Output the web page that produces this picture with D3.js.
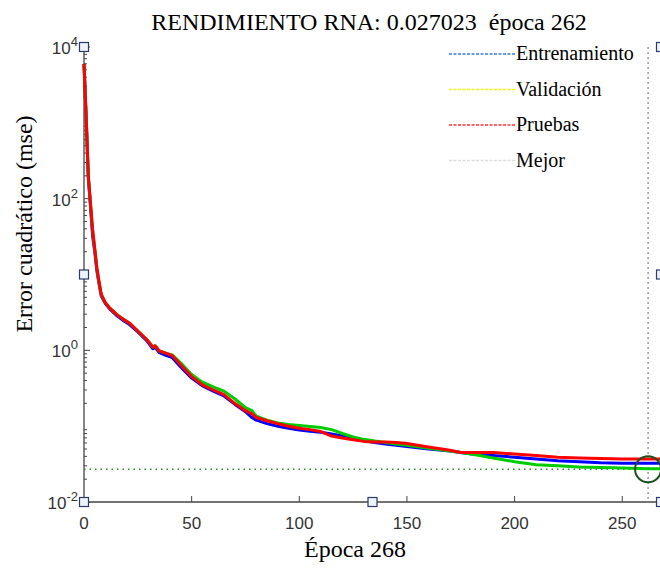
<!DOCTYPE html>
<html>
<head>
<meta charset="utf-8">
<script src="https://cdn.jsdelivr.net/npm/d3@7"></script>
<style>
  body { margin: 0; background: #fff; }
  svg { display: block; }
</style>
</head>
<body>
<div id="chart"></div>
<script>
let epochs = [0, 1, 2, 3, 4, 5, 6, 7, 8, 10, 12, 15, 18, 21, 25, 29, 30, 32, 33, 35, 38, 41, 45, 50, 55, 60, 65, 70, 75, 78, 80, 85, 90, 95, 100, 105, 110, 115, 120, 125, 130, 135, 140, 145, 150, 160, 170, 175, 180, 190, 200, 210, 220, 230, 240, 250, 262, 268]

let entrenamiento = [6000, 1200, 190, 80, 32, 20, 11, 7.5, 5.2, 4.1, 3.5, 2.9, 2.5, 2.2, 1.75, 1.35, 1.25, 1.05, 1.1, 0.93, 0.86, 0.8, 0.6, 0.43, 0.34, 0.29, 0.25, 0.195, 0.155, 0.13, 0.12, 0.108, 0.1, 0.094, 0.089, 0.086, 0.083, 0.079, 0.074, 0.069, 0.064, 0.061, 0.058, 0.056, 0.054, 0.05, 0.047, 0.045, 0.043, 0.041, 0.039, 0.037, 0.035, 0.034, 0.033, 0.0325, 0.0325, 0.0325]

let validacion = [6000, 1200, 200, 85, 38, 21, 12, 7.8, 5.4, 4.2, 3.6, 3.0, 2.6, 2.3, 1.8, 1.4, 1.3, 1.1, 1.15, 0.98, 0.92, 0.87, 0.68, 0.48, 0.38, 0.33, 0.29, 0.23, 0.175, 0.16, 0.135, 0.12, 0.11, 0.105, 0.102, 0.099, 0.096, 0.09, 0.08, 0.072, 0.067, 0.064, 0.061, 0.058, 0.056, 0.051, 0.047, 0.045, 0.043, 0.038, 0.034, 0.031, 0.03, 0.029, 0.0285, 0.028, 0.0275, 0.0275]

let pruebas = [6000, 1200, 200, 88, 39, 22, 12, 8, 5.5, 4.2, 3.6, 3.0, 2.6, 2.3, 1.8, 1.4, 1.3, 1.1, 1.15, 0.98, 0.92, 0.85, 0.64, 0.45, 0.35, 0.3, 0.26, 0.2, 0.16, 0.145, 0.13, 0.118, 0.108, 0.1, 0.094, 0.09, 0.085, 0.074, 0.07, 0.066, 0.063, 0.062, 0.062, 0.061, 0.059, 0.053, 0.048, 0.045, 0.045, 0.045, 0.043, 0.041, 0.039, 0.038, 0.0375, 0.037, 0.037, 0.037]

let mejorEpoca = 262
let mejorValor = 0.027023
let totalEpocas = 268

let xTicks = [0, 50, 100, 150, 200, 250]
let yTicks = [1e-2, 1e0, 1e2, 1e4]
let yTickLabels = ["-2", "0", "2", "4"]

let seriesNames = ["Entrenamiento", "Validación", "Pruebas", "Mejor"]
let legendColors = ["#3d7fe0", "#f5f500", "#ff3030", "#dddddd"]

let width = 660, height = 570
let margin = {top: 47, left: 84, bottom: 68}

let svg = d3.select("#chart").append("svg")
    .attr("width", width)
    .attr("height", height)

let x = d3.scaleLinear().domain([0, totalEpocas]).range([margin.left, 661])
let y = d3.scaleLog().domain([1e-2, 1e4]).range([height - margin.bottom, margin.top])

let sans = "Liberation Sans, Arial, sans-serif"
let serif = "Liberation Serif, Times New Roman, serif"

// axes (left and bottom only, ticks inside)
let axisColor = "#444"
svg.append("line")
    .attr("x1", x(0)).attr("x2", x(totalEpocas))
    .attr("y1", y(1e-2)).attr("y2", y(1e-2))
    .attr("stroke", axisColor).attr("stroke-width", 1.3)
svg.append("line")
    .attr("x1", x(0)).attr("x2", x(0))
    .attr("y1", y(1e-2)).attr("y2", y(1e4))
    .attr("stroke", axisColor).attr("stroke-width", 1.3)

// x ticks
xTicks.forEach(t => {
  if (t > 0) {
    svg.append("line")
      .attr("x1", x(t)).attr("x2", x(t))
      .attr("y1", y(1e-2)).attr("y2", y(1e-2) - 6)
      .attr("stroke", axisColor)
  }
  svg.append("text")
    .attr("x", x(t)).attr("y", y(1e-2) + 27)
    .attr("text-anchor", "middle")
    .attr("font-family", sans)
    .attr("font-size", "17px")
    .attr("fill", "#333")
    .text(t)
})

// y ticks, major and minor
for (let p = -2; p < 4; p++) {
  for (let m = 2; m < 10; m++) {
    let v = m * Math.pow(10, p)
    svg.append("line")
      .attr("x1", x(0)).attr("x2", x(0) + 3)
      .attr("y1", y(v)).attr("y2", y(v))
      .attr("stroke", axisColor)
  }
}
yTicks.forEach((t, i) => {
  svg.append("line")
    .attr("x1", x(0)).attr("x2", x(0) + 6)
    .attr("y1", y(t)).attr("y2", y(t))
    .attr("stroke", axisColor)
  let lab = svg.append("text")
    .attr("x", x(0) - 6).attr("y", y(t) + 7)
    .attr("text-anchor", "end")
    .attr("font-family", sans)
    .attr("font-size", "17px")
    .attr("fill", "#333")
  lab.append("tspan").text("10")
  lab.append("tspan").attr("dy", "-8").attr("font-size", "13px").text(yTickLabels[i])
})

// best line markers
svg.append("line")
    .attr("x1", x(0)).attr("x2", x(totalEpocas))
    .attr("y1", y(mejorValor)).attr("y2", y(mejorValor))
    .attr("stroke", "#2e8b2e").attr("stroke-width", 1.5)
    .attr("stroke-dasharray", "1.5,4")
svg.append("line")
    .attr("x1", x(mejorEpoca)).attr("x2", x(mejorEpoca))
    .attr("y1", y(1e4)).attr("y2", y(1e-2))
    .attr("stroke", "#888").attr("stroke-width", 1.3)
    .attr("stroke-dasharray", "2,3")

// curves
let data = epochs.map((e, i) => ({e: e, tr: entrenamiento[i], va: validacion[i], te: pruebas[i]}))
let lineOf = key => d3.line().x(d => x(d.e)).y(d => y(d[key]))

svg.append("path").attr("d", lineOf("tr")(data))
    .attr("fill", "none").attr("stroke", "#0000ff").attr("stroke-width", 3).attr("stroke-linejoin", "round")
svg.append("path").attr("d", lineOf("va")(data))
    .attr("fill", "none").attr("stroke", "#00cc00").attr("stroke-width", 3).attr("stroke-linejoin", "round")
svg.append("path").attr("d", lineOf("te")(data))
    .attr("fill", "none").attr("stroke", "#ff0000").attr("stroke-width", 3).attr("stroke-linejoin", "round")

// circle on best epoch
svg.append("circle")
    .attr("cx", x(mejorEpoca)).attr("cy", y(mejorValor))
    .attr("r", 13)
    .attr("fill", "none").attr("stroke", "#1f4f1f").attr("stroke-width", 2)

// legend
seriesNames.forEach((name, i) => {
  let ly = 54 + i * 35.5
  svg.append("line")
    .attr("x1", 449).attr("x2", 515)
    .attr("y1", ly).attr("y2", ly)
    .attr("stroke", legendColors[i]).attr("stroke-width", 1.5)
    .attr("stroke-dasharray", "3,1.5")
  svg.append("text")
    .attr("x", 516).attr("y", ly + 6)
    .attr("font-family", serif)
    .attr("font-size", "20px")
    .attr("fill", "#000")
    .text(name)
})

// title and axis labels
svg.append("text")
    .attr("x", 369).attr("y", 30)
    .attr("text-anchor", "middle")
    .attr("font-family", serif)
    .attr("font-size", "24px")
    .attr("fill", "#000")
    .attr("xml:space", "preserve")
    .text("RENDIMIENTO RNA: 0.027023  época 262")

svg.append("text")
    .attr("x", 355).attr("y", 557)
    .attr("text-anchor", "middle")
    .attr("font-family", serif)
    .attr("font-size", "24px")
    .attr("fill", "#000")
    .text("Época 268")

svg.append("text")
    .attr("transform", "translate(32,224) rotate(-90)")
    .attr("text-anchor", "middle")
    .attr("font-family", serif)
    .attr("font-size", "24px")
    .attr("fill", "#000")
    .text("Error cuadrático (mse)")

// image selection handles
let hx = [x(0), x(0), x(0), (x(0) + x(totalEpocas)) / 2, x(totalEpocas), x(totalEpocas), x(totalEpocas)]
let hy = [y(1e4), (y(1e4) + y(1e-2)) / 2, y(1e-2), y(1e-2), y(1e4), (y(1e4) + y(1e-2)) / 2, y(1e-2)]
hx.forEach((hxi, i) => {
  svg.append("rect")
    .attr("x", hxi - 4.5).attr("y", hy[i] - 4.5)
    .attr("width", 9).attr("height", 9)
    .attr("fill", "#eef3fb").attr("stroke", "#2b3a67").attr("stroke-width", 1.2)
})
</script>
</body>
</html>
